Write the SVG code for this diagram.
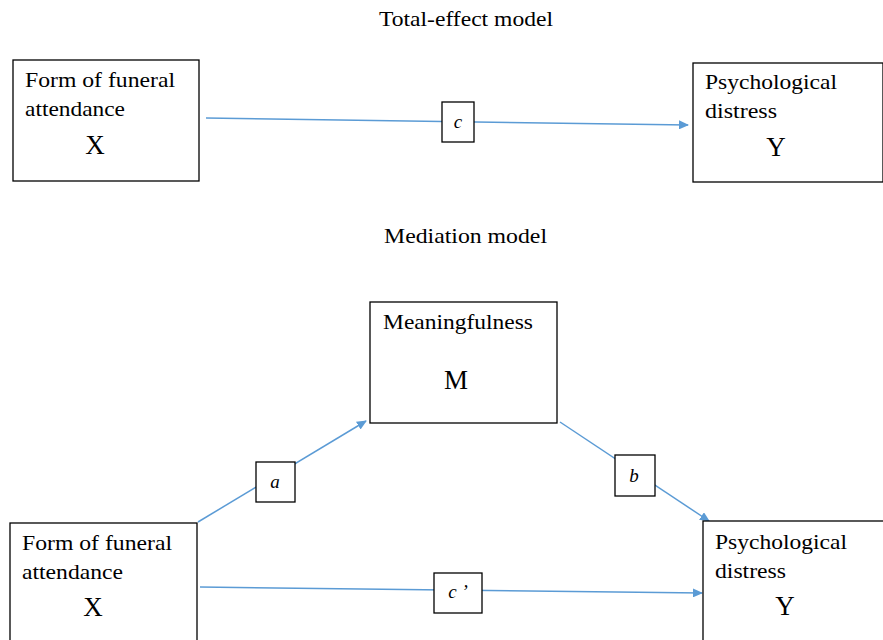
<svg xmlns="http://www.w3.org/2000/svg" width="883" height="640" viewBox="0 0 883 640">
<style>
.box{fill:#fff;stroke:#000;stroke-width:1.3}
.t{font-family:"Liberation Serif","Times New Roman",serif;font-size:21px;fill:#000}
.big{font-family:"Liberation Serif","Times New Roman",serif;font-size:27px;fill:#000}
.lab{font-family:"Liberation Serif","Times New Roman",serif;font-size:19px;font-style:italic;fill:#000;text-anchor:middle}
.conn{stroke:#5B9BD5;stroke-width:1.5;fill:none;marker-end:url(#arr)}
</style>
<defs>
<marker id="arr" viewBox="0 0 10 10" refX="9" refY="5" markerWidth="10" markerHeight="9" markerUnits="userSpaceOnUse" orient="auto" preserveAspectRatio="none">
<path d="M0,0 L10,5 L0,10 z" fill="#5B9BD5"/>
</marker>
</defs>
<rect width="883" height="640" fill="#fff"/>
<text class="t" x="379" y="26" textLength="174" lengthAdjust="spacingAndGlyphs">Total-effect model</text>
<text class="t" x="384" y="243" textLength="163" lengthAdjust="spacingAndGlyphs">Mediation model</text>
<g id="connectors">
<line class="conn" x1="206" y1="118" x2="688" y2="125"/>
<line class="conn" x1="198" y1="522" x2="366" y2="421"/>
<line class="conn" x1="560" y1="422" x2="709" y2="521"/>
<line class="conn" x1="200" y1="587" x2="702" y2="593"/>
</g>
<g id="X1">
<rect class="box" x="13" y="60" width="186" height="121"/>
<text class="t" x="25" y="87" textLength="150" lengthAdjust="spacingAndGlyphs">Form of funeral</text>
<text class="t" x="25" y="116" textLength="100" lengthAdjust="spacingAndGlyphs">attendance</text>
<text class="big" x="95" y="154" text-anchor="middle">X</text>
</g>
<g id="Y1">
<rect class="box" x="693" y="63" width="190" height="119"/>
<text class="t" x="705" y="89" textLength="132" lengthAdjust="spacingAndGlyphs">Psychological</text>
<text class="t" x="705" y="118" textLength="72" lengthAdjust="spacingAndGlyphs">distress</text>
<text class="big" x="776" y="156" text-anchor="middle">Y</text>
</g>
<g id="c">
<rect class="box" x="442" y="102" width="32" height="40"/>
<text class="lab" x="458" y="128">c</text>
</g>
<g id="M">
<rect class="box" x="370" y="302" width="187" height="121"/>
<text class="t" x="383" y="329" textLength="150" lengthAdjust="spacingAndGlyphs">Meaningfulness</text>
<text class="big" x="456" y="389" text-anchor="middle">M</text>
</g>
<g id="a">
<rect class="box" x="256" y="462" width="39" height="40"/>
<text class="lab" x="275" y="488">a</text>
</g>
<g id="b">
<rect class="box" x="615" y="455" width="40" height="41"/>
<text class="lab" x="634" y="482">b</text>
</g>
<g id="X2">
<rect class="box" x="10" y="523" width="187" height="130"/>
<text class="t" x="22" y="550" textLength="150" lengthAdjust="spacingAndGlyphs">Form of funeral</text>
<text class="t" x="22" y="579" textLength="101" lengthAdjust="spacingAndGlyphs">attendance</text>
<text class="big" x="93" y="616" text-anchor="middle">X</text>
</g>
<g id="Y2">
<rect class="box" x="703" y="521" width="190" height="130"/>
<text class="t" x="715" y="549" textLength="132" lengthAdjust="spacingAndGlyphs">Psychological</text>
<text class="t" x="715" y="578" textLength="71" lengthAdjust="spacingAndGlyphs">distress</text>
<text class="big" x="785" y="615" text-anchor="middle">Y</text>
</g>
<g id="cprime">
<rect class="box" x="434" y="573" width="48" height="40"/>
<text class="lab" x="458" y="598">c ’</text>
</g>
</svg>
